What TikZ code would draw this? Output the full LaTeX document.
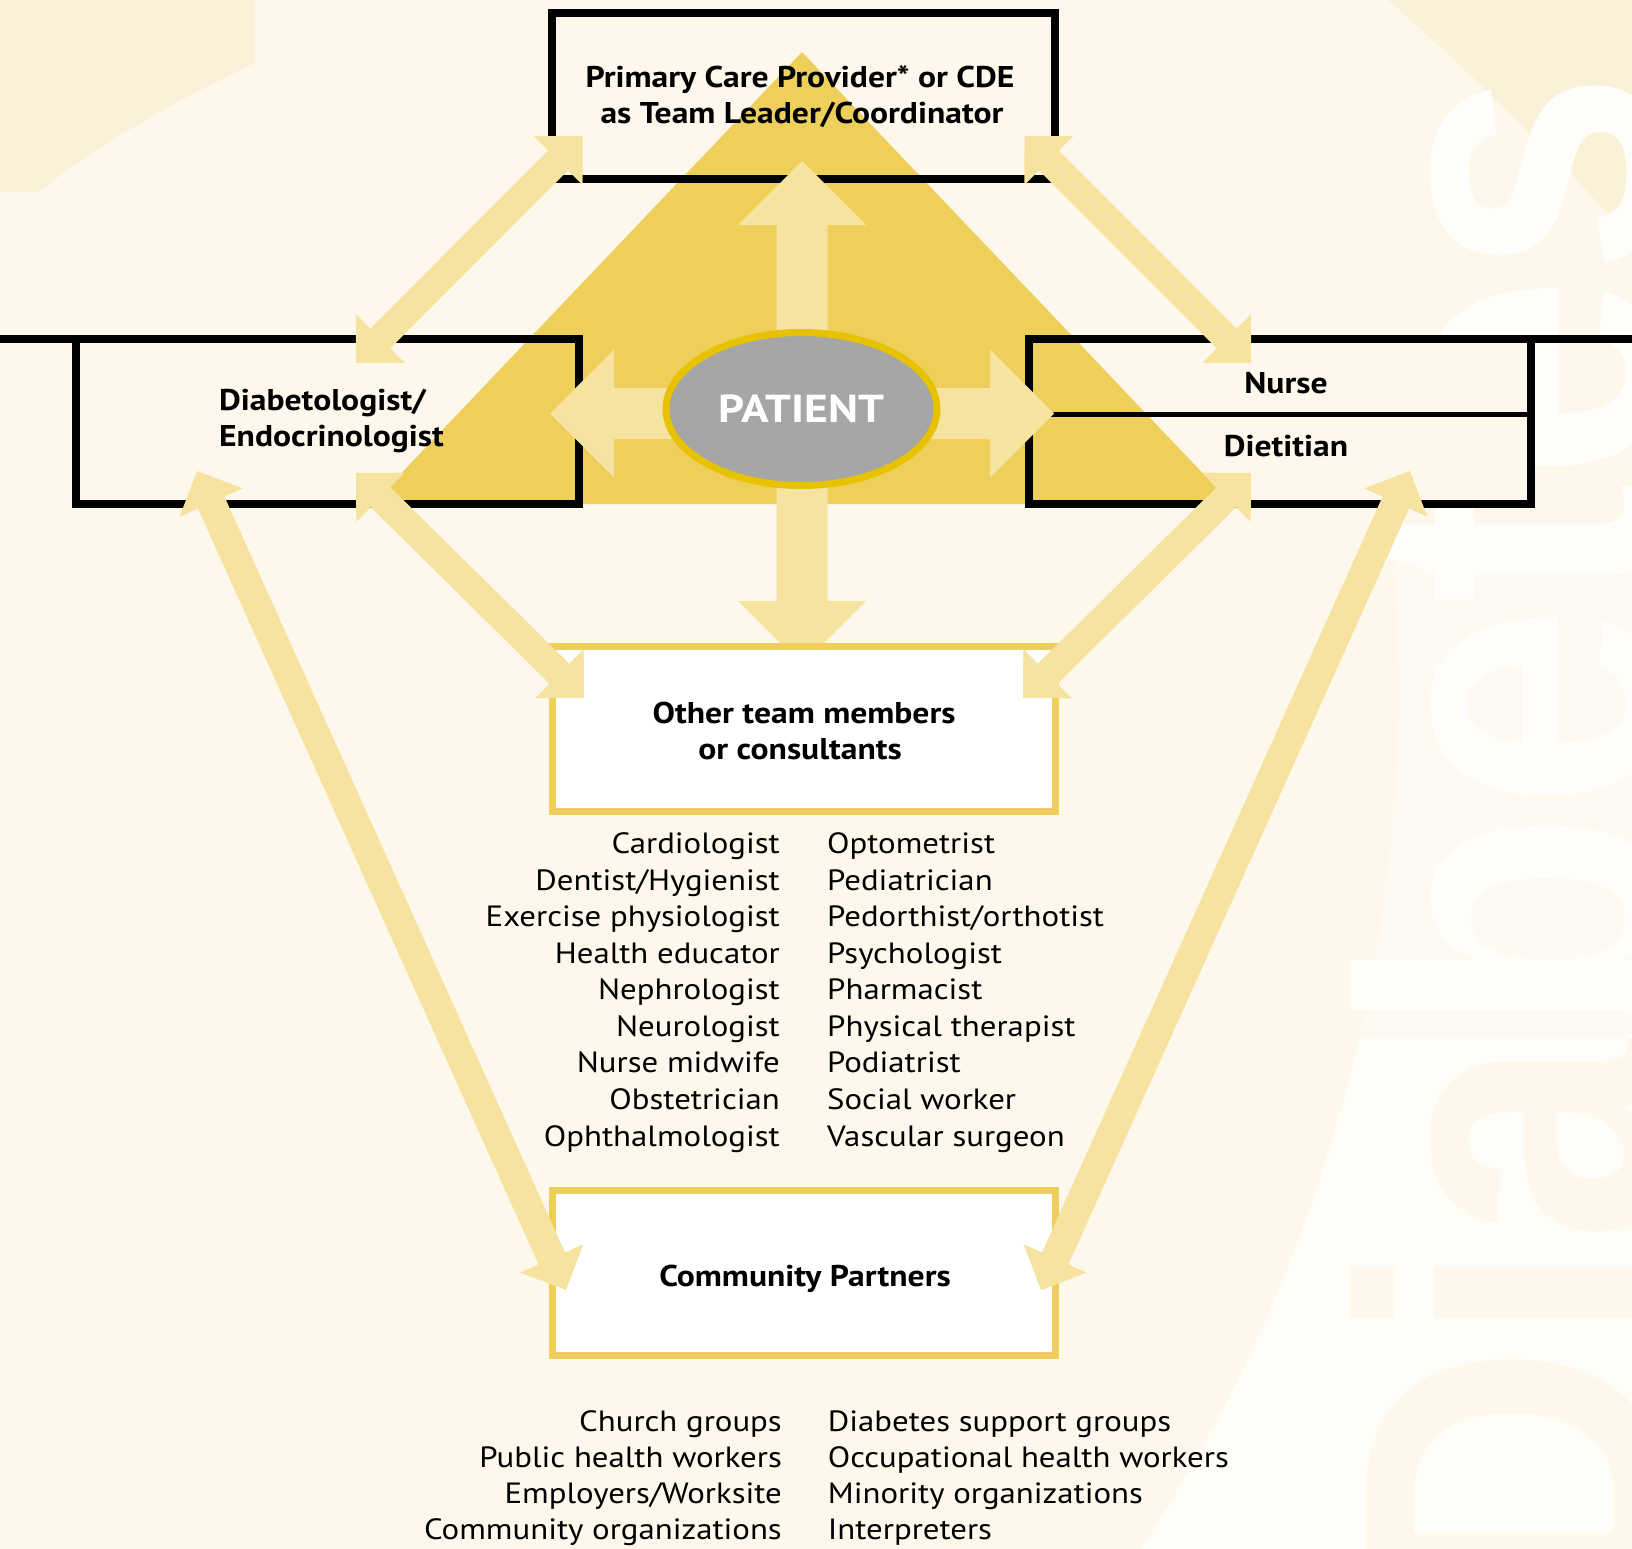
\documentclass[tikz,border=0pt]{standalone}
\usepackage{fontspec}
\usepackage{graphicx}
\setmainfont{PT Sans}[FakeStretch=1.12]
\newfontfamily\patfont{PT Sans}[FakeStretch=1.17]
\newfontfamily\wmfont{Liberation Sans}
\usetikzlibrary{calc,shapes.geometric}
\definecolor{bgc}{HTML}{FEF8EC}
\definecolor{wedgec}{HTML}{FAF1D8}
\definecolor{faintc}{HTML}{FEFAF1}
\definecolor{whiterc}{HTML}{FFFDF8}
\definecolor{wmc}{HTML}{FFFEFA}
\definecolor{trianglec}{HTML}{EDCF5A}
\definecolor{arrowc}{HTML}{F6E3A0}
\definecolor{ellfill}{HTML}{A6A6A6}
\definecolor{ellline}{HTML}{E6C200}
\definecolor{ybox}{HTML}{EECF5C}

% double headed fat arrow between two named tips
\newcommand{\dblarrow}[5]{%
 \fill[arrowc] (#1)
  -- ($ ($(#1)!#3!(#2)$)!#4!90:(#2) $)
  -- ($ ($(#1)!#3!(#2)$)!#5!90:(#2) $)
  -- ($ ($(#2)!#3!(#1)$)!#5!-90:(#1) $)
  -- ($ ($(#2)!#3!(#1)$)!#4!-90:(#1) $)
  -- (#2)
  -- ($ ($(#2)!#3!(#1)$)!#4!90:(#1) $)
  -- ($ ($(#2)!#3!(#1)$)!#5!90:(#1) $)
  -- ($ ($(#1)!#3!(#2)$)!#5!-90:(#2) $)
  -- ($ ($(#1)!#3!(#2)$)!#4!-90:(#2) $)
  -- cycle;}
% single headed fat arrow from tail to tip
\newcommand{\sglarrow}[5]{%
 \fill[arrowc] ($(#1)!#5!90:(#2)$)
  -- ($ ($(#2)!#3!(#1)$)!#5!-90:(#1) $)
  -- ($ ($(#2)!#3!(#1)$)!#4!-90:(#1) $)
  -- (#2)
  -- ($ ($(#2)!#3!(#1)$)!#4!90:(#1) $)
  -- ($ ($(#2)!#3!(#1)$)!#5!90:(#1) $)
  -- ($(#1)!#5!-90:(#2)$) -- cycle;}

\begin{document}
\begin{tikzpicture}[x=1pt,y=-1pt,
  blackbox/.style={draw=black, line width=8pt, inner sep=0pt, outer sep=0pt, rectangle},
  yellowbox/.style={draw=ybox, fill=white, line width=7pt, inner sep=0pt, outer sep=0pt, rectangle},
  lbl/.style={font=\fontsize{30}{36.5}\selectfont\bfseries, inner sep=0pt, anchor=base},
  lst/.style={font=\fontsize{29.3}{36.5}\selectfont, inner sep=0pt},
  wm/.style={rotate=90, anchor=base west, inner sep=0pt, font=\wmfont\bfseries\fontsize{429}{429}\selectfont}
]
\useasboundingbox (0,0) rectangle (1632,1549);
\fill[bgc] (0,0) rectangle (1632,1549);

% background decorations
\fill[wedgec] (0,0) -- (255,0) -- (255,63) .. controls (160,108) and (95,148) .. (38,192) -- (0,192) -- cycle;
\fill[wedgec] (1388,0) .. controls (1470,72) and (1560,160) .. (1632,240) -- (1632,0) -- cycle;
\begin{scope}
  \clip (0,555) rectangle (1632,1038);
  \fill[faintc, even odd rule] (0,555) rectangle (1632,1038) (-166,689) circle[radius=1564pt];
\end{scope}
\begin{scope}
  \clip (0,1038) rectangle (1632,1549);
  \fill[whiterc, even odd rule] (0,1038) rectangle (1632,1549) (-166,689) circle[radius=1564pt];
\end{scope}
\node[wm, text=wmc] (wmark) at (1661.5,1612) {\scalebox{0.862}[1]{Diabetes}};
\begin{scope}[even odd rule]
  \clip (0,1038) rectangle (1632,1549);
  \clip (0,1038) rectangle (1632,1549) (-166,689) circle[radius=1564pt];
  \node[wm, text=bgc] (wmarkb) at (1661.5,1612) {\scalebox{0.862}[1]{Diabetes}};
\end{scope}

% right box background (hides watermark)
\fill[bgc] (1029,338.5) rectangle (1531,503.5);

% central triangle
\fill[trianglec] (802,52) -- (372,504) -- (1232,504) -- cycle;

% black boxes
\node[blackbox, minimum width=503pt, minimum height=166pt] (top) at (803.5,96.5) {};
\node[blackbox, minimum width=503pt, minimum height=165pt] (diab) at (327.5,421) {};
\node[blackbox, minimum width=502pt, minimum height=165pt] (rbox) at (1280,421) {};
\draw[line width=8pt] (0,338.5) -- (diab.north west);
\draw[line width=8pt] (rbox.north east) -- (1632,338.5);
\draw[line width=5pt] (rbox.west |- 0,414) -- (rbox.east |- 0,414);

% patient arrows
\coordinate (pc) at (802,413.5);
\coordinate (upT) at (802,161);
\coordinate (dnT) at (802,665);
\coordinate (lfT) at (550,413.5);
\coordinate (rtT) at (1054,413.5);
\sglarrow{pc}{upT}{64pt}{64pt}{25.5pt}
\sglarrow{pc}{lfT}{64pt}{64pt}{25.5pt}
\sglarrow{pc}{rtT}{64pt}{64pt}{25.5pt}
\sglarrow{pc}{dnT}{64pt}{64pt}{25.5pt}

\node[ellipse, draw=ellline, line width=7pt, fill=ellfill, minimum width=271pt, minimum height=153pt, inner sep=0pt,
  text=white, font=\patfont\fontsize{39}{39}\selectfont\bfseries] (pat) at (801.5,409) {PATIENT};

% yellow boxes
\node[yellowbox, minimum width=503pt, minimum height=165pt] (other) at (803.5,728.5) {};
\node[yellowbox, minimum width=503pt, minimum height=165pt] (comm) at (803.5,1273) {};

% diagonal arrows
\coordinate (aT) at (582.5,136);  \coordinate (aL) at (356,363);
\coordinate (bT) at (1024.5,136); \coordinate (bR) at (1251,363);
\coordinate (cL) at (356,473);    \coordinate (cO) at (584,698);
\coordinate (dR) at (1251,473);   \coordinate (dO) at (1023,698);
\coordinate (eL) at (197,471);    \coordinate (eC) at (566,1290);
\coordinate (fR) at (1410,471);   \coordinate (fC) at (1041,1290);
\dblarrow{aT}{aL}{34.6pt}{34.6pt}{14pt}
\dblarrow{bT}{bR}{34.6pt}{34.6pt}{14pt}
\dblarrow{cL}{cO}{34.6pt}{34.6pt}{14pt}
\dblarrow{dR}{dO}{34.6pt}{34.6pt}{14pt}
\dblarrow{eL}{eC}{34.6pt}{34.6pt}{14.5pt}
\dblarrow{fR}{fC}{34.6pt}{34.6pt}{14.5pt}

% labels
\node[lbl] (top1) at (800,87.3) {Primary Care Provider* or CDE};
\node[lbl] (top2) at (802,124) {as Team Leader/Coordinator};
\node[lbl, anchor=base west] (diab1) at (219,410) {Diabetologist/};
\node[lbl, anchor=base west] (diab2) at (219,446.7) {Endocrinologist};
\node[lbl] (nurse) at (1286,393.5) {Nurse};
\node[lbl] (diet) at (1286,456.7) {Dietitian};
\node[lbl] (oth1) at (804,723) {Other team members};
\node[lbl] (oth2) at (800,759) {or consultants};
\node[lbl] (commT) at (805,1286) {Community Partners};

% lists
\foreach \t [count=\i from 0] in {Cardiologist, Dentist/Hygienist, Exercise physiologist, Health educator, Nephrologist, Neurologist, Nurse midwife, Obstetrician, Ophthalmologist}
  \node[lst, anchor=base east] (ol\i) at (780,{853.6+36.55*\i}) {\t};
\foreach \t [count=\i from 0] in {Optometrist, Pediatrician, Pedorthist/orthotist, Psychologist, Pharmacist, Physical therapist, Podiatrist, Social worker, Vascular surgeon}
  \node[lst, anchor=base west] (or\i) at (827,{853.6+36.55*\i}) {\t};
\foreach \t [count=\i from 0] in {Church groups, Public health workers, Employers/Worksite, Community organizations}
  \node[lst, anchor=base east] (cl\i) at (782,{1431+36.3*\i}) {\t};
\foreach \t [count=\i from 0] in {Diabetes support groups, Occupational health workers, Minority organizations, Interpreters}
  \node[lst, anchor=base west] (cr\i) at (827.7,{1431+36.3*\i}) {\t};
\end{tikzpicture}
\end{document}
